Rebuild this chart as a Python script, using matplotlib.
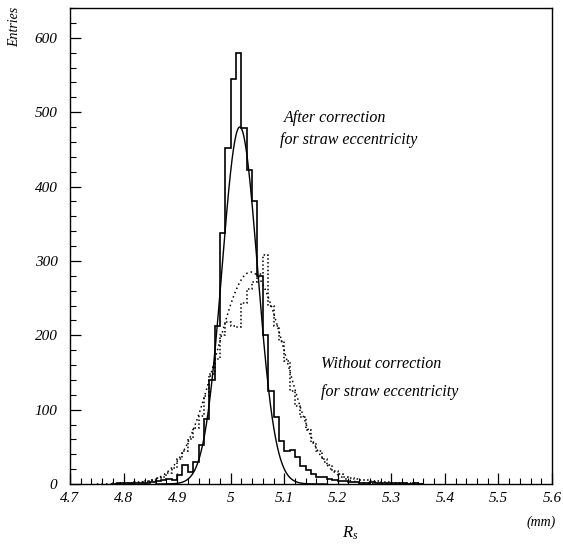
import numpy as np
import matplotlib
matplotlib.use("Agg")
import matplotlib.pyplot as plt
from matplotlib.ticker import FixedLocator, FixedFormatter, MultipleLocator

plt.rcParams['font.family'] = ['Liberation Serif', 'DejaVu Serif']
plt.rcParams['mathtext.fontset'] = 'custom'
plt.rcParams['mathtext.it'] = 'Liberation Serif:italic'
plt.rcParams['mathtext.rm'] = 'Liberation Serif'

# ---- data ----
bin_start = 4.78
bin_width = 0.01

# after correction (solid histogram), bins from 4.78 to 5.36
after_counts = [0, 1, 1, 1, 2, 1, 2, 3, 4, 5,
                7, 6, 12, 26, 16, 30, 52, 88, 140, 212,
                338, 452, 545, 579, 478, 422, 380, 280, 200, 125,
                90, 58, 44, 46, 36, 24, 19, 14, 10, 9,
                7, 5, 4, 4, 3, 3, 2, 2, 3, 2,
                1, 2, 1, 1, 1, 0, 1, 0]

# without correction (dotted histogram)
without_counts = [1, 1, 1, 2, 3, 3, 4, 6, 8, 10,
                  15, 22, 33, 45, 60, 75, 92, 118, 148, 168,
                  200, 218, 212, 211, 244, 262, 272, 282, 308, 240,
                  212, 192, 165, 125, 105, 90, 72, 55, 44, 33,
                  26, 18, 14, 10, 8, 7, 6, 5, 4, 4,
                  3, 3, 2, 2, 1, 1, 1, 0]

# gaussian fits: (amplitude, mean, sigma)
fit_after = (480, 5.017, 0.033)
fit_without = (285, 5.0375, 0.065)

x_ticks = [4.7, 4.8, 4.9, 5.0, 5.1, 5.2, 5.3, 5.4, 5.5, 5.6]
x_tick_labels = ["4.7", "4.8", "4.9", "5", "5.1", "5.2", "5.3", "5.4", "5.5", "5.6"]
y_ticks = [0, 100, 200, 300, 400, 500, 600]
y_tick_labels = ["0", "100", "200", "300", "400", "500", "600"]

# ---- figure ----
W, H = 563, 550
fig = plt.figure(figsize=(W / 100, H / 100), dpi=100)
ax = fig.add_axes([70 / W, (H - 484) / H, (552 - 70) / W, (484 - 8) / H])

edges = bin_start + bin_width * np.arange(len(after_counts) + 1)
ax.stairs(after_counts, edges, color='black', lw=1.2)
ax.stairs(without_counts, edges, color='black', lw=1.1, linestyle=(0, (1, 1.5)))

def gauss(x, p):
    a, m, s = p
    return a * np.exp(-0.5 * ((x - m) / s) ** 2)

xs = np.linspace(4.86, 5.18, 400)
ax.plot(xs, gauss(xs, fit_after), color='black', lw=1.0)
xs2 = np.linspace(4.75, 5.36, 500)
ax.plot(xs2, gauss(xs2, fit_without), color='black', lw=1.1, linestyle=(0, (1, 2)))

ax.set_xlim(4.7, 5.6)
ax.set_ylim(0, 640)

ax.xaxis.set_major_locator(FixedLocator(x_ticks))
ax.xaxis.set_major_formatter(FixedFormatter(x_tick_labels))
ax.xaxis.set_minor_locator(MultipleLocator(0.02))
ax.yaxis.set_major_locator(FixedLocator(y_ticks))
ax.yaxis.set_major_formatter(FixedFormatter(y_tick_labels))
ax.yaxis.set_minor_locator(MultipleLocator(20))

ax.tick_params(which='both', direction='in', top=False, right=False)
ax.tick_params(which='major', length=8, width=0.9)
ax.tick_params(which='minor', length=4, width=0.8)
ax.tick_params(axis='x', pad=6)
ax.tick_params(axis='y', pad=9)
for lab in ax.get_xticklabels() + ax.get_yticklabels():
    lab.set_fontstyle('italic')
    lab.set_fontsize(11)
for sp in ax.spines.values():
    sp.set_linewidth(1.0)

tkw = dict(fontsize=11.5, fontstyle='italic', va='center', ha='left')
ax.text(5.099, 492, "After correction", **tkw)
ax.text(5.092, 463, "for straw eccentricity", **tkw)
ax.text(5.169, 161, "Without correction", **tkw)
ax.text(5.169, 124, "for straw eccentricity", **tkw)

fig.text(15 / W, 1 - 27 / H, "Entries", rotation=90, fontsize=10,
         fontstyle='italic', ha='center', va='center')
fig.text(350 / W, 1 - 533 / H, r"$R_s$", fontsize=12, ha='center', va='center')
fig.text(541 / W, 1 - 522 / H, "(mm)", fontsize=10, fontstyle='italic',
         ha='center', va='center')

fig.savefig("out.png", dpi=100)
